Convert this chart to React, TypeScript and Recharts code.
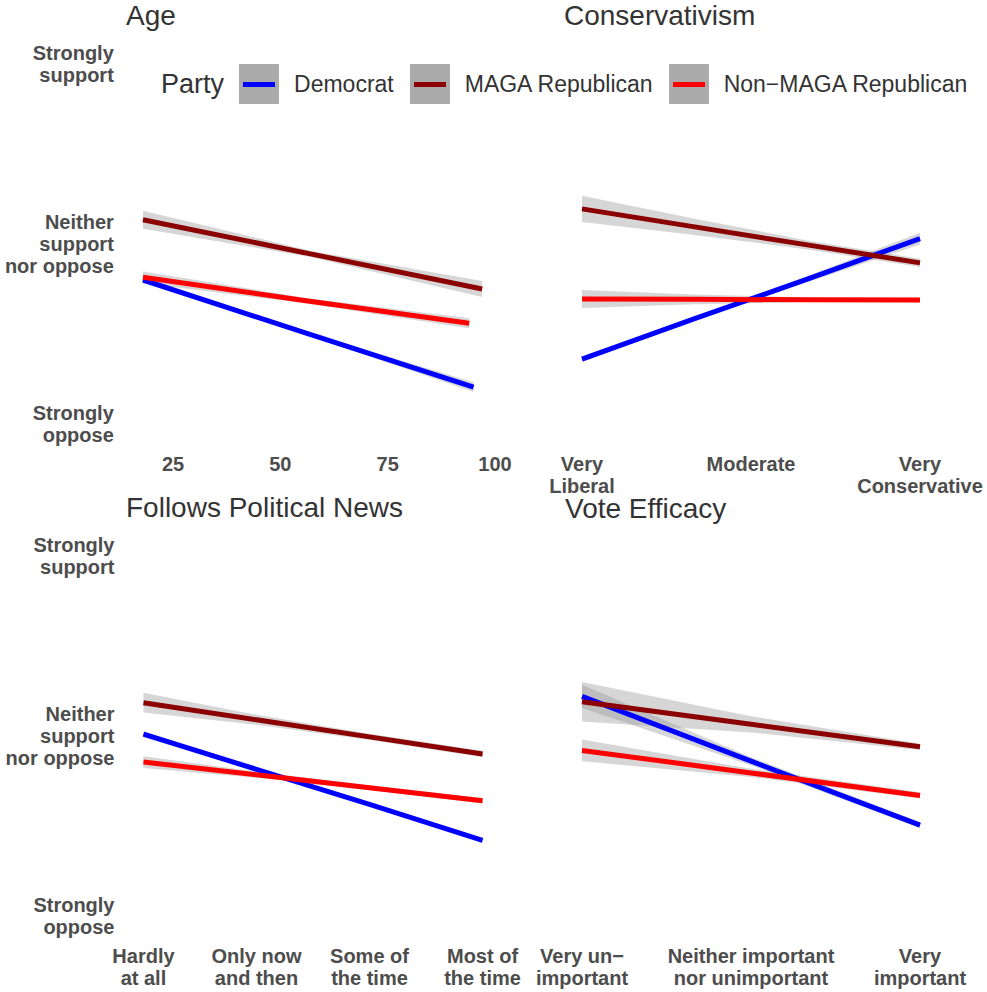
import React from "react";
import { ComposedChart, Line, Area, XAxis, YAxis, Legend } from "recharts";

const font = '"Liberation Sans", Arial, Helvetica, sans-serif';

const parties = ["Democrat", "MAGA Republican", "Non−MAGA Republican"];
const partyColors = ["#0000ff", "#8b0000", "#ff0000"];

const yTicks = [1, 3, 5];
const yTickLabels = ["Strongly\noppose", "Neither\nsupport\nnor oppose", "Strongly\nsupport"];

// Age
const ageTicks = [25, 50, 75, 100];
const ageTickLabels = ["25", "50", "75", "100"];
const ageDem = [
  { x: 18, y: 2.6, lo: 2.575, hi: 2.625 },
  { x: 56, y: 2.01, lo: 1.995, hi: 2.025 },
  { x: 95, y: 1.41, lo: 1.355, hi: 1.465 },
];
const ageMaga = [
  { x: 18, y: 3.27, lo: 3.17, hi: 3.37 },
  { x: 57, y: 2.89, lo: 2.855, hi: 2.925 },
  { x: 97, y: 2.5, lo: 2.41, hi: 2.59 },
];
const ageNonMaga = [
  { x: 18, y: 2.63, lo: 2.565, hi: 2.695 },
  { x: 56, y: 2.37, lo: 2.34, hi: 2.4 },
  { x: 94, y: 2.12, lo: 2.065, hi: 2.175 },
];

// Conservativism
const consTicks = [1, 4, 7];
const consTickLabels = ["Very\nLiberal", "Moderate", "Very\nConservative"];
const consDem = [
  { x: 1, y: 1.72, lo: 1.69, hi: 1.75 },
  { x: 3, y: 2.17, lo: 2.15, hi: 2.19 },
  { x: 5, y: 2.61, lo: 2.575, hi: 2.645 },
  { x: 7, y: 3.06, lo: 2.995, hi: 3.125 },
];
const consMaga = [
  { x: 1, y: 3.39, lo: 3.245, hi: 3.535 },
  { x: 3, y: 3.19, lo: 3.1, hi: 3.28 },
  { x: 5, y: 2.99, lo: 2.94, hi: 3.04 },
  { x: 7, y: 2.79, lo: 2.745, hi: 2.835 },
];
const consNonMaga = [
  { x: 1, y: 2.39, lo: 2.29, hi: 2.49 },
  { x: 3, y: 2.385, lo: 2.33, hi: 2.44 },
  { x: 5, y: 2.38, lo: 2.355, hi: 2.405 },
  { x: 7, y: 2.378, lo: 2.353, hi: 2.403 },
];

// Follows Political News
const newsTicks = [1, 2, 3, 4];
const newsTickLabels = ["Hardly\nat all", "Only now\nand then", "Some of\nthe time", "Most of\nthe time"];
const newsDem = [
  { x: 1, y: 3.02, lo: 2.985, hi: 3.055 },
  { x: 2, y: 2.63, lo: 2.61, hi: 2.65 },
  { x: 3, y: 2.24, lo: 2.22, hi: 2.26 },
  { x: 4, y: 1.84, lo: 1.815, hi: 1.865 },
];
const newsMaga = [
  { x: 1, y: 3.37, lo: 3.26, hi: 3.48 },
  { x: 2, y: 3.18, lo: 3.125, hi: 3.235 },
  { x: 3, y: 2.99, lo: 2.955, hi: 3.025 },
  { x: 4, y: 2.8, lo: 2.765, hi: 2.835 },
];
const newsNonMaga = [
  { x: 1, y: 2.71, lo: 2.645, hi: 2.775 },
  { x: 2, y: 2.57, lo: 2.535, hi: 2.605 },
  { x: 3, y: 2.425, lo: 2.4, hi: 2.45 },
  { x: 4, y: 2.28, lo: 2.25, hi: 2.31 },
];

// Vote Efficacy
const voteTicks = [1, 3, 5];
const voteTickLabels = ["Very un−\nimportant", "Neither important\nnor unimportant", "Very\nimportant"];
const voteDem = [
  { x: 1, y: 3.44, lo: 3.31, hi: 3.57 },
  { x: 3, y: 2.72, lo: 2.675, hi: 2.765 },
  { x: 5, y: 2.01, lo: 1.975, hi: 2.045 },
];
const voteMaga = [
  { x: 1, y: 3.38, lo: 3.16, hi: 3.6 },
  { x: 3, y: 3.13, lo: 3.04, hi: 3.22 },
  { x: 5, y: 2.88, lo: 2.845, hi: 2.915 },
];
const voteNonMaga = [
  { x: 1, y: 2.84, lo: 2.72, hi: 2.96 },
  { x: 3, y: 2.59, lo: 2.545, hi: 2.635 },
  { x: 5, y: 2.34, lo: 2.305, hi: 2.375 },
];

type Pt = { x: number; y: number; lo: number; hi: number };

const renderYTick = (props: any) => {
  const { x, y, payload } = props;
  const lines = (yTickLabels[yTicks.indexOf(payload.value)] || "").split("\n");
  const first = y - ((lines.length - 1) * 22) / 2 + 7;
  return (
    <text textAnchor="end" fill="#4d4d4d" fontSize={20} fontWeight="bold" fontFamily={font}>
      {lines.map((l, i) => (
        <tspan key={i} x={x} y={first + i * 22}>
          {l}
        </tspan>
      ))}
    </text>
  );
};

const makeXTick = (values: number[], labels: string[]) => (props: any) => {
  const { x, y, payload } = props;
  const lines = (labels[values.indexOf(payload.value)] || "").split("\n");
  return (
    <text textAnchor="middle" fill="#4d4d4d" fontSize={20} fontWeight="bold" fontFamily={font}>
      {lines.map((l, i) => (
        <tspan key={i} x={x} y={y + 28.5 + i * 22}>
          {l}
        </tspan>
      ))}
    </text>
  );
};

const renderLegend = (props: any) => {
  const items = (props.payload || []).filter((p: any) => p.type !== "none");
  return (
    <div style={{ display: "flex", alignItems: "center", fontFamily: font, color: "#333" }}>
      <span style={{ fontSize: 27, marginRight: 15 }}>Party</span>
      {items.map((p: any) => (
        <div key={p.value} style={{ display: "flex", alignItems: "center", marginRight: 16 }}>
          <div style={{ width: 40, height: 40, background: "#ababab", position: "relative" }}>
            <div
              style={{ position: "absolute", left: 4, right: 4, top: 17.5, height: 5, background: p.color }}
            />
          </div>
          <span style={{ fontSize: 23, marginLeft: 15 }}>{p.value}</span>
        </div>
      ))}
    </div>
  );
};

type PanelProps = {
  title: string;
  series: Pt[][];
  ticks: number[];
  labels: string[];
  xDomain: [number, number];
  top: number;
  height: number;
  plotTop: number;
  plotBottom: number;
  plotLeft: number;
  plotRight: number;
  titleLeft: number;
  titleTop: number;
  showY?: boolean;
  legend?: boolean;
};

const Panel = (p: PanelProps) => {
  const width = 987;
  const xh = 50;
  return (
    <div style={{ position: "absolute", left: 0, top: p.top, width, height: p.height }}>
      <ComposedChart
        width={width}
        height={p.height}
        margin={{
          top: p.plotTop,
          right: width - p.plotRight,
          left: p.showY ? 0 : p.plotLeft,
          bottom: p.height - p.plotBottom - xh,
        }}
      >
        <XAxis
          type="number"
          dataKey="x"
          domain={p.xDomain}
          ticks={p.ticks}
          interval={0}
          height={xh}
          axisLine={false}
          tickLine={false}
          tickSize={0}
          tickMargin={0}
          tick={makeXTick(p.ticks, p.labels)}
        />
        <YAxis
          type="number"
          domain={[0.8, 5.2]}
          ticks={yTicks}
          interval={0}
          hide={!p.showY}
          width={p.showY ? p.plotLeft : 0}
          axisLine={false}
          tickLine={false}
          tickSize={0}
          tickMargin={12}
          tick={renderYTick}
        />
        {p.series.map((s, i) => [
          <Area
            key={"band" + i}
            data={s}
            dataKey={(d: Pt) => [d.lo, d.hi]}
            type="linear"
            stroke="none"
            fill="#999999"
            fillOpacity={0.4}
            legendType="none"
            activeDot={false}
            isAnimationActive={false}
          />,
          <Line
            key={"line" + i}
            data={s}
            dataKey="y"
            name={parties[i]}
            type="linear"
            stroke={partyColors[i]}
            strokeWidth={5}
            dot={false}
            activeDot={false}
            isAnimationActive={false}
          />,
        ])}
        {p.legend && (
          <Legend
            layout="horizontal"
            verticalAlign="middle"
            align="center"
            content={renderLegend}
            wrapperStyle={{ position: "absolute", left: 161, top: 64, width: 826, height: 40 }}
          />
        )}
      </ComposedChart>
      <div
        style={{
          position: "absolute",
          left: p.titleLeft,
          top: p.titleTop,
          fontFamily: font,
          fontSize: 28,
          lineHeight: "28px",
          color: "#333",
          whiteSpace: "nowrap",
        }}
      >
        {p.title}
      </div>
    </div>
  );
};

const App = () => {
  return (
    <div style={{ position: "absolute", left: 0, top: 0, width: 987, height: 992, background: "#fff" }}>
      <Panel
        title="Age"
        series={[ageDem, ageMaga, ageNonMaga]}
        ticks={ageTicks}
        labels={ageTickLabels}
        xDomain={[14, 101]}
        top={0}
        height={495}
        plotTop={46}
        plotBottom={442}
        plotLeft={125.8}
        plotRight={499.3}
        titleLeft={126}
        titleTop={2}
        showY
        legend
      />
      <Panel
        title="Conservativism"
        series={[consDem, consMaga, consNonMaga]}
        ticks={consTicks}
        labels={consTickLabels}
        xDomain={[0.7, 7.3]}
        top={0}
        height={495}
        plotTop={46}
        plotBottom={442}
        plotLeft={565.1}
        plotRight={936.9}
        titleLeft={564}
        titleTop={2}
      />
      <Panel
        title="Follows Political News"
        series={[newsDem, newsMaga, newsNonMaga]}
        ticks={newsTicks}
        labels={newsTickLabels}
        xDomain={[0.85, 4.15]}
        top={495}
        height={497}
        plotTop={43}
        plotBottom={439}
        plotLeft={126.5}
        plotRight={499.5}
        titleLeft={126}
        titleTop={-1.5}
        showY
      />
      <Panel
        title="Vote Efficacy"
        series={[voteDem, voteMaga, voteNonMaga]}
        ticks={voteTicks}
        labels={voteTickLabels}
        xDomain={[0.8, 5.2]}
        top={495}
        height={497}
        plotTop={43}
        plotBottom={439}
        plotLeft={565.1}
        plotRight={936.9}
        titleLeft={565}
        titleTop={-0.5}
      />
    </div>
  );
};

export default App;
